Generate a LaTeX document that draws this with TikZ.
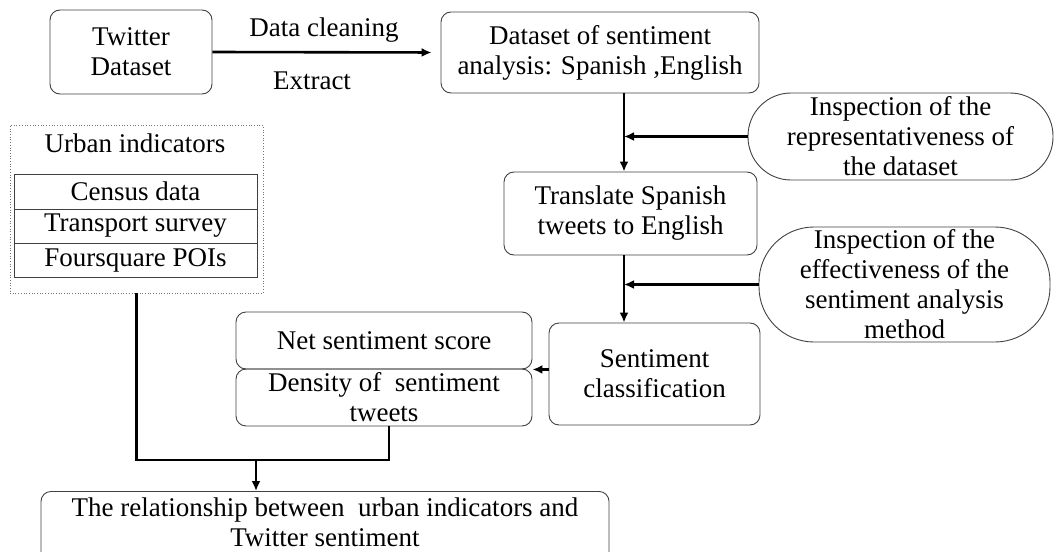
\documentclass[tikz,border=0pt]{standalone}
\usepackage{fontspec}
\setmainfont{Liberation Serif}
\usetikzlibrary{arrows.meta,calc}
\begin{document}
\begin{tikzpicture}[x=1pt,y=-1pt,
  every node/.style={font=\fontsize{27}{30}\selectfont, align=center, inner sep=0pt},
  rbox/.style={draw=black!75, line width=0.9pt, rounded corners=10pt},
  pill/.style={draw=black!75, line width=0.9pt},
  sbox/.style={draw=black!75, line width=0.9pt},
  conn/.style={line width=2.6pt, black},
  arr/.style={conn, -{Latex[length=10pt,width=9pt]}}
]
\useasboundingbox (0,0) rectangle (1059,551);

% top row
\node[rbox, minimum width=162, minimum height=84] (tw) at (131,52) {Twitter\\Dataset};
\node[rbox, minimum width=318, minimum height=81] (ds) at (600,52.5) {Dataset of sentiment\\analysis: Spanish ,English};
\node (dc) at (324,30) {Data cleaning};
\node (ex) at (312,81) {Extract};

% right column
\node[pill, rounded corners=43pt, minimum width=305, minimum height=87] (ins1) at (900.5,136.5)
  {Inspection of the\\representativeness of\\the dataset};
\node[rbox, minimum width=253, minimum height=83] (tr) at (630.5,213.5) {Translate Spanish\\tweets to English};
\node[pill, rounded corners=55pt, minimum width=291, minimum height=115] (ins2) at (904.5,284.5)
  {Inspection of the\\effectiveness of the\\sentiment analysis\\method};
\node[rbox, minimum width=211, minimum height=102] (sc) at (654.5,374) {Sentiment\\classification};

% result boxes
\node[rbox, minimum width=296, minimum height=57] (net) at (384,340.5) {Net sentiment score};
\node[rbox, minimum width=296, minimum height=57] (den) at (384,397.5) {Density of\ \ sentiment\\tweets};

% urban indicators
\node[draw=black!55, dotted, line width=0.7pt, minimum width=253, minimum height=168] (urb) at (136.5,209) {};
\node (urbt) at (135,143) {Urban indicators};
\node[sbox, minimum width=243, minimum height=35] (cen) at (135.5,191.5) {Census data};
\node[sbox, minimum width=243, minimum height=34] (tra) at (135.5,226) {Transport survey};
\node[sbox, minimum width=243, minimum height=34] (fsq) at (135.5,260) {Foursquare POIs};

% final box (bottom edge runs off the page)
\node[rbox, minimum width=568, anchor=north, inner ysep=6pt] (rel) at (325,491)
  {The relationship between\ \ urban indicators and\\Twitter sentiment\\[24pt]};

% connectors
\coordinate (vx) at (624,0);
\coordinate (j) at (256,460);
\draw[arr, shorten >=9pt] (tw.east) -- (ds.west);
\draw[arr] (ds.south -| vx) -- (tr.north -| vx);
\draw[arr] (ins1.west) -- (ins1.west -| vx);
\draw[arr] (tr.south -| vx) -- (sc.north -| vx);
\draw[arr] (ins2.west) -- (ins2.west -| vx);
\draw[arr] (sc.west |- net.south east) -- (net.south east);
\draw[conn] (urb.south) |- (j) -| ([xshift=5]den.south);
\draw[arr] (j) -- (rel.north -| j);
\end{tikzpicture}
\end{document}
